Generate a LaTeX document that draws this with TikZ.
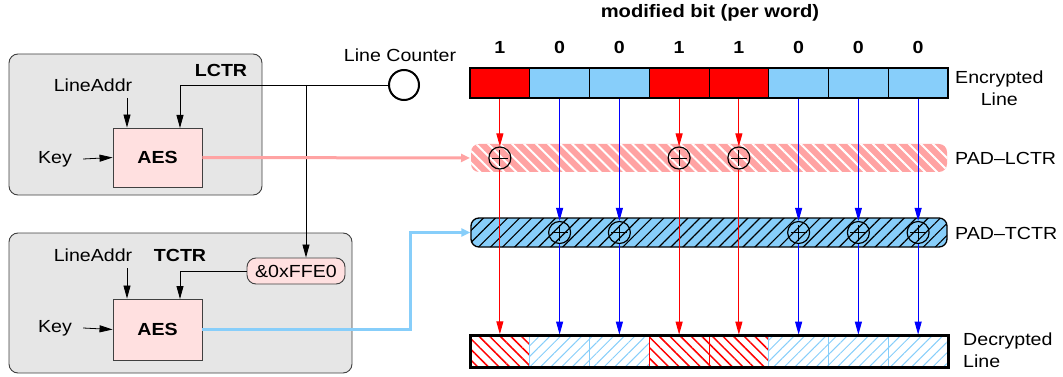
\documentclass[tikz,border=0pt]{standalone}
\usepackage{fontspec}
\setmainfont{Liberation Sans}[FakeStretch=1.12]
\usetikzlibrary{arrows.meta,patterns.meta}
\definecolor{boxgray}{HTML}{E6E6E6}
\definecolor{aespink}{HTML}{FFE0E0}
\definecolor{padpink}{HTML}{FFA3A3}
\definecolor{lblue}{HTML}{87CEFA}
\definecolor{edge}{HTML}{404040}
\tikzset{
  outerbox/.style={draw=edge, fill=boxgray, rounded corners=9pt, line width=0.9pt, inner sep=0pt},
  aesbox/.style={draw=edge, fill=aespink, line width=0.9pt, font=\bfseries, minimum width=89pt, inner sep=0pt},
  txt/.style={inner sep=0pt},
  arr/.style={-{Triangle[length=13pt,width=7pt]}, line width=0.8pt},
  redarr/.style={-{Triangle[length=13pt,width=7pt]}, line width=1pt, red},
  bluearr/.style={-{Triangle[length=13pt,width=7pt]}, line width=1pt, blue},
  xorc/.style={circle, draw, line width=1.2pt, minimum size=22pt, inner sep=0pt,
    path picture={\draw[line width=0.9pt]
      ([xshift=-8pt]path picture bounding box.center) -- ([xshift=8pt]path picture bounding box.center)
      ([yshift=-8pt]path picture bounding box.center) -- ([yshift=8pt]path picture bounding box.center);}},
  enccell/.style={draw, line width=0.9pt, minimum width=59.75pt, minimum height=30pt, inner sep=0pt},
  deccell/.style={line width=0.7pt, minimum width=59.75pt, minimum height=32pt, inner sep=0pt},
}
\begin{document}
\fontsize{17.5}{22}\selectfont
\begin{tikzpicture}[x=1pt,y=-1pt]
\useasboundingbox (0,0) rectangle (1063,377);
% title
\node[txt, font=\fontsize{18}{20}\selectfont\bfseries] (title) at (710,13) {modified bit (per word)};
% LCTR box
\node[outerbox, minimum width=253pt, minimum height=141pt] (box1) at (135.5,124.5) {};
\node[aesbox, minimum height=59pt] (aes1) at (157.5,157.5) {AES};
\node[txt] (la1) at (93,85) {LineAddr};
\node[txt, font=\bfseries] (lctr) at (221,70) {LCTR};
\node[txt] (key1) at (55,159) {Key};
\coordinate (la1a) at (127,98);
\draw[arr] (la1a) -- (la1a |- aes1.north);
\draw[arr] ([xshift=11pt]key1.east) -- (aes1.west);
% TCTR box
\node[outerbox, minimum width=343pt, minimum height=140pt] (box2) at (180.5,303) {};
\node[aesbox, minimum height=61pt] (aes2) at (157.5,329.5) {AES};
\node[txt] (la2) at (93,255) {LineAddr};
\node[txt, font=\bfseries] (tctr) at (180,255) {TCTR};
\node[txt] (key2) at (55,328) {Key};
\node[draw=edge, fill=aespink, line width=0.9pt, rounded corners=9pt, minimum width=98pt, minimum height=26pt, inner sep=0pt] (andb) at (296,271) {\&0xFFE0};
\coordinate (la2a) at (127,268);
\draw[arr] (la2a) -- (la2a |- aes2.north);
\draw[arr] ([xshift=11pt]key2.east) -- (aes2.west);
% line counter
\node[circle, draw, line width=2pt, minimum size=30pt, inner sep=0pt] (lc) at (404,85) {};
\node[txt] (lclbl) at (400,55) {Line Counter};
\coordinate (lctrin) at (180,128);
\coordinate (j) at (306,85);
\draw[arr] (lc.west) -| (lctrin);
\draw[arr] (j) -- (j |- andb.north);
\coordinate (tctrin) at (180,299);
\draw[arr] (andb.west) -| (tctrin);
% pads
\node[rounded corners=8pt, minimum width=476pt, minimum height=28pt, inner sep=0pt,
  preaction={fill=padpink}, pattern={Lines[angle=-45,distance=8.5pt,line width=2pt]}, pattern color=white] (padl) at (709,158) {};
\node[draw, line width=1.3pt, rounded corners=8pt, minimum width=476pt, minimum height=29pt, inner sep=0pt,
  preaction={fill=lblue}, pattern={Lines[angle=45,distance=8.5pt,line width=1.2pt]}, pattern color=black] (padt) at (709,232.5) {};
\node[txt, anchor=west] (padllbl) at (955,158) {PAD–LCTR};
\node[txt, anchor=west] (padtlbl) at (955,233) {PAD–TCTR};
% connectors from AES
\draw[padpink, line width=3pt, -{Triangle[length=9pt,width=8pt]}] (aes1.east) -- (padl.west);
\coordinate (bend) at (410,0);
\draw[lblue, line width=3pt, -{Triangle[length=9pt,width=8pt]}] (aes2.east) -- (aes2.east -| bend) |- (padt.west);
% encrypted line
\foreach \i/\b in {1/1,2/0,3/0,4/1,5/1,6/0,7/0,8/0}{
  \pgfmathsetmacro{\cx}{470+59.75*(\i-0.5)}
  \ifnum\b=1
    \node[enccell, fill=red] (e\i) at (\cx,83) {};
    \node[deccell, draw=red, pattern={Lines[angle=-45,distance=7.5pt,line width=1.5pt]}, pattern color=red] (d\i) at (\cx,351) {};
    \node[xorc] (x\i) at (\cx,158) {};
    \draw[redarr] (e\i.south) -- (x\i.north);
    \draw[redarr] (x\i.south) -- (d\i.north);
  \else
    \node[enccell, fill=lblue] (e\i) at (\cx,83) {};
    \node[deccell, draw=lblue, pattern={Lines[angle=45,distance=7.5pt,line width=1pt]}, pattern color=lblue] (d\i) at (\cx,351) {};
    \node[xorc] (x\i) at (\cx,232.5) {};
    \draw[bluearr] (e\i.south) -- (x\i.north);
    \draw[bluearr] (x\i.south) -- (d\i.north);
  \fi
  \node[txt, font=\bfseries] (b\i) at (\cx,47) {\b};
}
\node[draw, line width=2.5pt, minimum width=478pt, minimum height=30pt, inner sep=0pt] (enc) at (709,83) {};
\node[draw, line width=3pt, minimum width=478pt, minimum height=32pt, inner sep=0pt] (dec) at (709,351) {};
\node[txt, anchor=west, align=center] (enclbl) at (955,88) {Encrypted\\Line};
\node[txt, anchor=west, align=left] (declbl) at (963,350) {Decrypted\\Line};
\end{tikzpicture}
\end{document}
